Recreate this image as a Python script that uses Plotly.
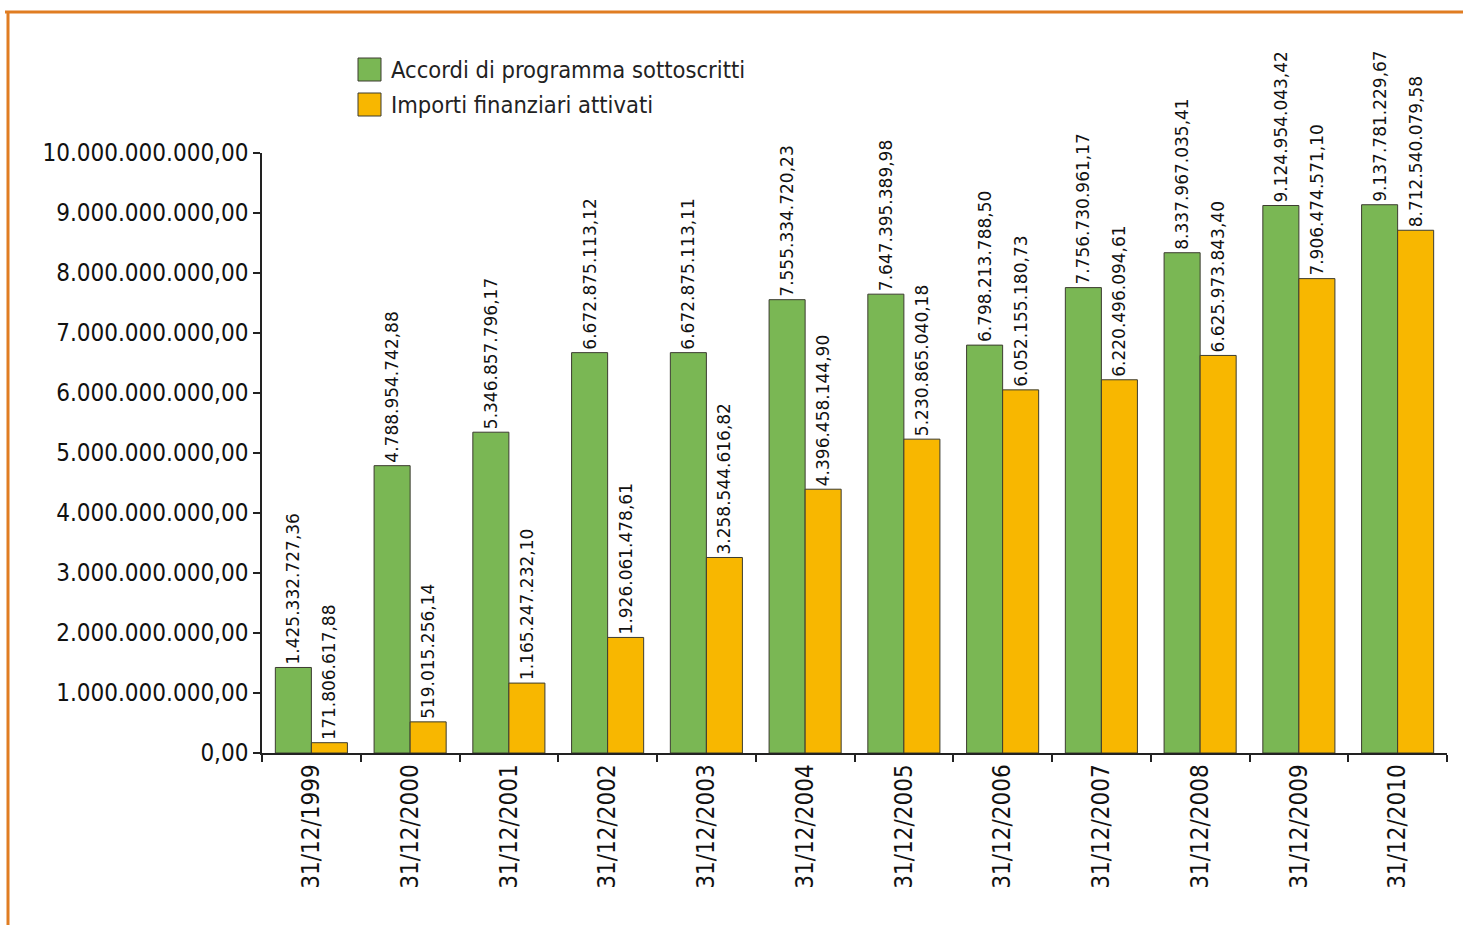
import plotly.graph_objects as go

# Reference dates (end of each year)
dates = ["31/12/1999", "31/12/2000", "31/12/2001", "31/12/2002", "31/12/2003",
         "31/12/2004", "31/12/2005", "31/12/2006", "31/12/2007", "31/12/2008",
         "31/12/2009", "31/12/2010"]

# Cumulative amount of signed programme agreements (EUR)
accordi = [1425332727.36, 4788954742.88, 5346857796.17, 6672875113.12,
           6672875113.11, 7555334720.23, 7647395389.98, 6798213788.50,
           7756730961.17, 8337967035.41, 9124954043.42, 9137781229.67]

# Cumulative financial amounts activated (EUR)
importi = [171806617.88, 519015256.14, 1165247232.10, 1926061478.61,
           3258544616.82, 4396458144.90, 5230865040.18, 6052155180.73,
           6220496094.61, 6625973843.40, 7906474571.10, 8712540079.58]

series_names = ["Accordi di programma sottoscritti", "Importi finanziari attivati"]

GREEN = "#7ab754"
YELLOW = "#f8b700"
OUTLINE = "#3c3c30"
BORDER = "#e07d22"
TEXT = "#111111"
COND = "DejaVu Sans Condensed, DejaVu Sans"
TICK_FONT = dict(family=COND, size=24, color=TEXT)
VALUE_FONT = dict(family="DejaVu Sans", size=17, color=TEXT)

W, H = 1463, 925
ML, MR, MT, MB = 262, 16, 153, 172
PW, PH = W - ML - MR, H - MT - MB


def px_x(x):
    return (x - ML) / PW


def px_y(y):
    return (H - MB - y) / PH


fig = go.Figure()
for name, vals, col in [(series_names[0], accordi, GREEN),
                        (series_names[1], importi, YELLOW)]:
    fig.add_trace(go.Bar(
        x=dates, y=vals, name=name,
        marker=dict(color=col, line=dict(color=OUTLINE, width=1)),
        texttemplate="%{y:,.2f}",
        textposition="outside",
        textangle=-90,
        textfont=VALUE_FONT,
        constraintext="none",
        cliponaxis=False,
        showlegend=False,
    ))

# Legend drawn as outlined swatches with labels
shapes = []
annotations = []
for i, (name, col) in enumerate(zip(series_names, [GREEN, YELLOW])):
    top = 58 + i * 35
    shapes.append(dict(type="rect", xref="paper", yref="paper",
                       x0=px_x(358), x1=px_x(381), y0=px_y(top + 23), y1=px_y(top),
                       fillcolor=col, line=dict(color=OUTLINE, width=1)))
    annotations.append(dict(xref="paper", yref="paper",
                            x=px_x(389), y=px_y(top + 11.5),
                            xanchor="left", yanchor="middle",
                            text=name, showarrow=False,
                            font=dict(family=COND, size=23.5, color="#222222")))

# Orange frame lines along the top and left edge
shapes += [
    dict(type="line", xref="paper", yref="paper",
         x0=px_x(5), x1=px_x(W + 5), y0=px_y(12), y1=px_y(12),
         line=dict(color=BORDER, width=3)),
    dict(type="line", xref="paper", yref="paper",
         x0=px_x(8), x1=px_x(8), y0=px_y(12), y1=px_y(H + 5),
         line=dict(color=BORDER, width=3)),
]

fig.update_layout(
    width=W, height=H,
    margin=dict(l=ML, r=MR, t=MT, b=MB),
    separators=",.",
    barmode="group",
    bargap=0.27,
    bargroupgap=0,
    paper_bgcolor="white",
    plot_bgcolor="white",
    showlegend=False,
    xaxis=dict(
        type="category",
        tickangle=-90,
        tickfont=TICK_FONT,
        tickson="boundaries",
        ticks="outside", ticklen=7, tickwidth=1.5, tickcolor="#222222",
        showline=True, linecolor="#222222", linewidth=1.5,
        showgrid=False, zeroline=False,
        automargin=False,
    ),
    yaxis=dict(
        range=[0, 1e10],
        dtick=1e9,
        tickformat=",.2f",
        tickfont=TICK_FONT,
        ticks="outside", ticklen=7, tickwidth=2, tickcolor="#222222",
        showline=True, linecolor="#222222", linewidth=1.5,
        showgrid=False, zeroline=False,
        automargin=False,
    ),
    shapes=shapes,
    annotations=annotations,
)

fig.write_html("out.html")
